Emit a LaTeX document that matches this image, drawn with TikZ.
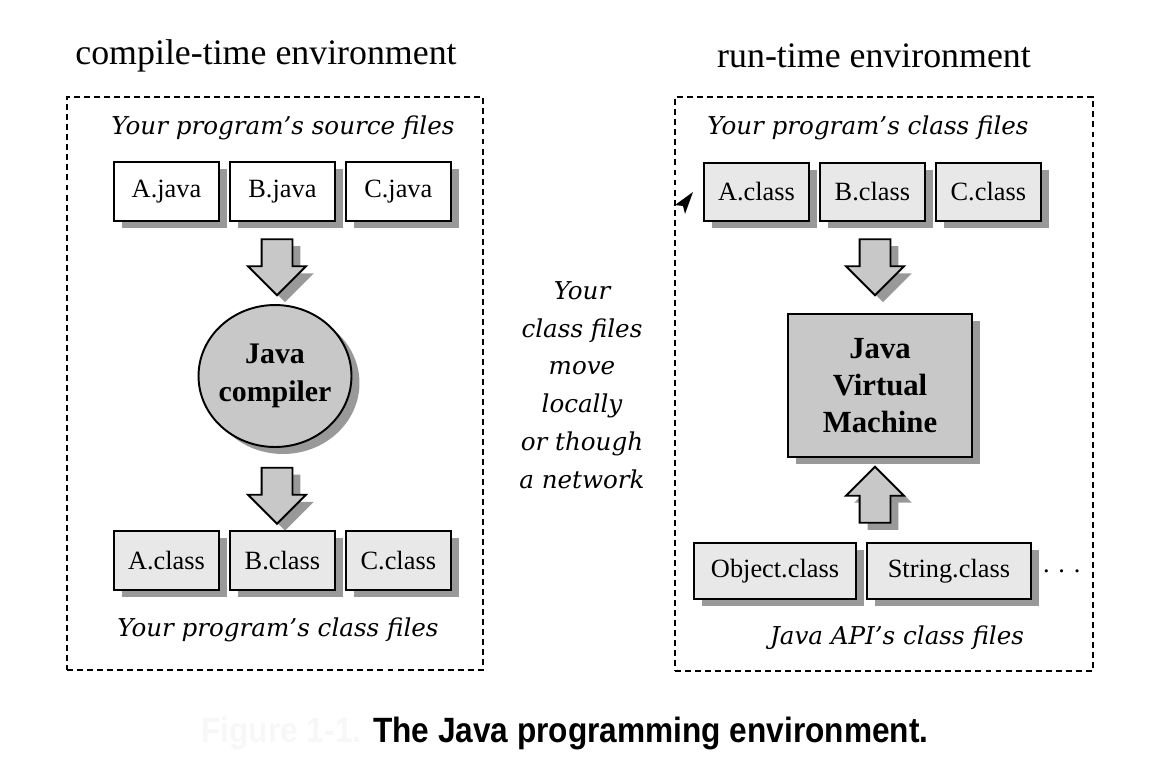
\documentclass[tikz,border=0pt]{standalone}
\usepackage{fontspec, graphicx}
\setmainfont{Liberation Serif}
\setsansfont{Liberation Sans}
\newfontfamily\notefont{DejaVu Serif}
\usepackage{tikz}
\usetikzlibrary{positioning, shapes.geometric, shapes.arrows, shadows}
\definecolor{filegray}{HTML}{E8E8E8}
\definecolor{toolgray}{HTML}{C8C8C8}
\definecolor{shadowgray}{HTML}{999999}
\definecolor{faintgray}{HTML}{F7F7F7}
\tikzset{hardshadow/.style={drop shadow={shadow xshift=0.16cm, shadow yshift=-0.14cm, fill=shadowgray, opacity=1}},
	file/.style={draw, line width=1.1pt, fill=filegray, hardshadow, minimum width=2.1cm, minimum height=1.17cm, inner sep=0pt, font=\fontsize{15}{18}\selectfont},
	envbox/.style={draw, dashed, line width=0.9pt, dash pattern=on 3.4pt off 2.3pt},
	fatarrow/.style={single arrow, draw, line width=1.1pt, fill=toolgray, hardshadow, inner sep=0.29cm, minimum height=1.12cm, minimum width=1.12cm, single arrow head extend=0.27cm, single arrow tip angle=90},
	note/.style={font=\notefont\itshape\fontsize{14}{21.5}\selectfont, align=center},
	heading/.style={font=\fontsize{20.4}{24}\selectfont}}

\begin{document}
\begin{tikzpicture}[x=0.02cm, y=-0.02cm, node distance=0.18cm]
	\useasboundingbox (0,0) rectangle (1156,758);
	\node[envbox, minimum width=8.32cm, minimum height=11.46cm] (Compile) at (275,383.5) {};
	\node[envbox, minimum width=8.36cm, minimum height=11.48cm] (Run) at (884,384) {};
	\node[heading] (CompileTitle) at (266,56) {compile-time environment};
	\node[heading] (RunTitle) at (874,56) {run-time environment};

	\node[note] (SourceNote) at (283,128) {Your program’s source files};
	\node[file, fill=white] (AJava) at (166.5,191.5) {A.java};
	\node[file, fill=white, right=of AJava] (BJava) {B.java};
	\node[file, fill=white, right=of BJava] (CJava) {C.java};
	\node[fatarrow, shape border rotate=270] (ToCompiler) at (277,259.5) {};
	\node[ellipse, draw, line width=1.1pt, fill=toolgray, hardshadow, inner sep=-0.05cm, minimum width=3.06cm, minimum height=2.84cm, align=center, font=\bfseries\fontsize{17}{21.5}\selectfont] (Compiler) at (275,376) {Java\\compiler};
	\node[fatarrow, shape border rotate=270] (FromCompiler) at (277,488) {};
	\node[file] (AClass) at (166.5,560.5) {A.class};
	\node[file, right=of AClass] (BClass) {B.class};
	\node[file, right=of BClass] (CClass) {C.class};
	\node[note] (ClassNote) at (278,630) {Your program’s class files};

	\node[note] (MoveNote) at (582,385) {Your\\class files\\move\\locally\\or though\\a network};

	\node[note] (RunNote) at (868,128) {Your program’s class files};
	\node[file, minimum height=1.16cm] (RunA) at (756.5,192) {A.class};
	\node[file, minimum height=1.16cm, right=of RunA] (RunB) {B.class};
	\node[file, minimum height=1.16cm, right=of RunB] (RunC) {C.class};
	\node[fatarrow, shape border rotate=270] (ToJVM) at (875,259.5) {};
	\node[draw, line width=1.1pt, fill=toolgray, hardshadow, minimum width=3.68cm, minimum height=2.86cm, align=center, font=\bfseries\fontsize{17.5}{21}\selectfont] (JVM) at (880,385.5) {Java\\Virtual\\Machine};
	\node[fatarrow, shape border rotate=90] (FromAPI) at (875,502.5) {};
	\node[file, minimum width=3.24cm, minimum height=1.12cm] (Object) at (775,571) {Object.class};
	\node[file, minimum width=3.28cm, minimum height=1.12cm, right=of Object] (String) {String.class};
	\node[font=\fontsize{15}{18}\selectfont, right=0.1cm of String] (More) {. . .};
	\node[note] (APINote) at (897,638) {Java API’s class files};
	\fill (693,192) -- (675,205) -- (683,206) -- (685,214) -- cycle;

	\node (Caption) at (565,733) {\scalebox{0.9}[1]{\sffamily\bfseries\fontsize{20}{24}\selectfont\textcolor{faintgray}{Figure 1-1.} The Java programming environment.}};
\end{tikzpicture}
\end{document}
